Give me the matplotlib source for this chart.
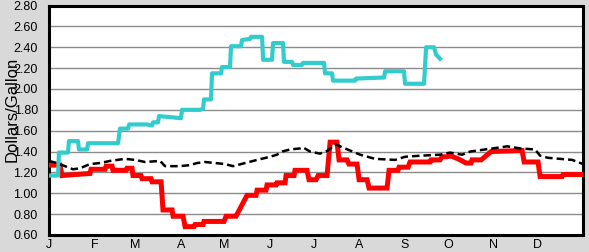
import numpy as np
import matplotlib.pyplot as plt

# day of year -> price
cyan_days = [0, 6.2, 6.8, 13, 13.6, 19.8, 20.5, 26, 26.7, 47.2, 48.5, 54, 54.7, 67, 70.4, 71.1, 74.5,
             75.2, 82.7, 90.2, 90.9, 103.2, 105.3, 105.9, 110.7, 111.4, 117.6, 118.2, 123.7, 124.4,
             131.2, 131.9, 137.4, 138.1, 145.6, 146.3, 152.4, 153.1, 159.9, 160.6, 166.1, 166.8,
             172.9, 173.6, 188, 188.6, 193.4, 194.1, 209.2, 209.8, 229, 229.7, 242.6, 243.3, 256.3,
             257.7, 263.1, 264.5, 267.2]
cyan_vals = [1.17, 1.17, 1.39, 1.39, 1.50, 1.50, 1.42, 1.42, 1.48, 1.48, 1.62, 1.62, 1.66, 1.66, 1.65,
             1.68, 1.68, 1.74, 1.73, 1.72, 1.80, 1.80, 1.81, 1.90, 1.90, 2.15, 2.15, 2.21, 2.21, 2.41,
             2.41, 2.47, 2.48, 2.50, 2.50, 2.28, 2.28, 2.44, 2.44, 2.26, 2.26, 2.23, 2.23, 2.25, 2.25,
             2.15, 2.15, 2.08, 2.08, 2.10, 2.11, 2.17, 2.17, 2.05, 2.05, 2.40, 2.40, 2.33, 2.29]

red_days = [0, 7.5, 8.9, 17.8, 28, 28.7, 38.3, 39, 43.1, 43.7, 52.6, 53.3, 56.7, 57.4, 62.9, 63.6,
            69.7, 70.4, 76.6, 77.9, 84.1, 84.8, 91.6, 93, 99.1, 99.8, 105.3, 105.9, 119.6, 121, 127.8,
            135.3, 141.5, 142.2, 148.3, 149, 155.2, 155.8, 161.3, 162, 167.5, 168.1, 176.3, 177.7,
            182.5, 183.9, 190, 192.1, 196.8, 198.2, 203.7, 205, 210.5, 211.9, 217.4, 218.7, 231,
            232.4, 238.5, 239.2, 245.4, 246.7, 260.4, 261.1, 267.2, 268.6, 272, 274.1, 279.6, 285,
            288.4, 289.1, 295.3, 302.1, 323.3, 324.7, 334.2, 335.6, 350.6, 351.3, 365]
red_vals = [1.27, 1.27, 1.17, 1.18, 1.19, 1.23, 1.23, 1.26, 1.26, 1.22, 1.22, 1.24, 1.24, 1.17, 1.17,
            1.14, 1.14, 1.11, 1.11, 0.84, 0.84, 0.78, 0.78, 0.68, 0.68, 0.70, 0.70, 0.73, 0.73, 0.78,
            0.78, 0.98, 0.98, 1.03, 1.03, 1.08, 1.08, 1.10, 1.10, 1.17, 1.17, 1.22, 1.22, 1.13, 1.13,
            1.17, 1.17, 1.49, 1.49, 1.32, 1.32, 1.28, 1.28, 1.13, 1.13, 1.05, 1.05, 1.22, 1.22, 1.25,
            1.25, 1.30, 1.30, 1.32, 1.32, 1.35, 1.35, 1.36, 1.33, 1.29, 1.29, 1.32, 1.32, 1.40, 1.41,
            1.30, 1.30, 1.16, 1.16, 1.18, 1.18]

avg_days = [0, 5.5, 10.9, 16.4, 21.2, 28, 34.9, 41.7, 51.9, 58.8, 65.6, 75.9, 79.3, 89.5, 96.4, 101.2,
            106.6, 113.5, 120.3, 125.8, 134, 142.2, 151.1, 155.8, 159.3, 164.7, 171.6, 173.6, 178.4,
            185.2, 190.7, 195.5, 198.9, 205.7, 212.6, 222.8, 236.5, 243.3, 253.6, 267.2, 274.1, 282.3,
            287.8, 298, 308.3, 313.1, 322, 332.2, 335.6, 341, 349.3, 357.5, 365]
avg_vals = [1.31, 1.29, 1.26, 1.23, 1.24, 1.28, 1.29, 1.31, 1.33, 1.32, 1.30, 1.31, 1.26, 1.26, 1.27,
            1.29, 1.30, 1.29, 1.28, 1.26, 1.29, 1.32, 1.35, 1.37, 1.40, 1.42, 1.43, 1.44, 1.40, 1.38,
            1.41, 1.47, 1.45, 1.41, 1.37, 1.33, 1.32, 1.35, 1.36, 1.37, 1.39, 1.37, 1.40, 1.42, 1.44,
            1.45, 1.43, 1.42, 1.36, 1.34, 1.33, 1.32, 1.28]

month_starts = [0, 31, 59, 90, 120, 151, 181, 212, 243, 273, 304, 334]
month_labels = ['J', 'F', 'M', 'A', 'M', 'J', 'J', 'A', 'S', 'O', 'N', 'D']
yticks = np.arange(0.60, 2.81, 0.20)

plt.rcParams['font.family'] = ['Liberation Sans', 'DejaVu Sans']

fig = plt.figure(figsize=(5.89, 2.52), dpi=100, facecolor='#d9d9d9')
ax = fig.add_axes([0.0832, 0.0675, 0.9068, 0.9105])
ax.set_facecolor('white')

ax.plot(red_days, red_vals, color='#ff0000', lw=3.6, solid_joinstyle='miter', zorder=3)
ax.plot(cyan_days, cyan_vals, color='#33cccc', lw=3.0, zorder=4)
ax.plot(avg_days, avg_vals, color='black', lw=1.8, linestyle=(0, (3.0, 1.6)), zorder=5)

ax.set_xlim(0, 365)
ax.set_ylim(0.60, 2.80)
ax.set_yticks(yticks)
ax.set_yticklabels(['%.2f' % v for v in yticks])
ax.set_xticks(month_starts)
ax.set_xticklabels(month_labels)
ax.tick_params(axis='y', length=0, pad=8, labelsize=9)
ax.tick_params(axis='x', length=0, pad=3, labelsize=9)
ax.yaxis.grid(True, color='#8c8c8c', lw=1.0)
ax.set_axisbelow(True)
for s in ax.spines.values():
    s.set_linewidth(2.2)
    s.set_color('black')

fig.text(0.02, 0.565, 'Dollars/Gallon', rotation=90, ha='center', va='center', fontsize=12)

fig.savefig('out.png', dpi=100, facecolor=fig.get_facecolor())
